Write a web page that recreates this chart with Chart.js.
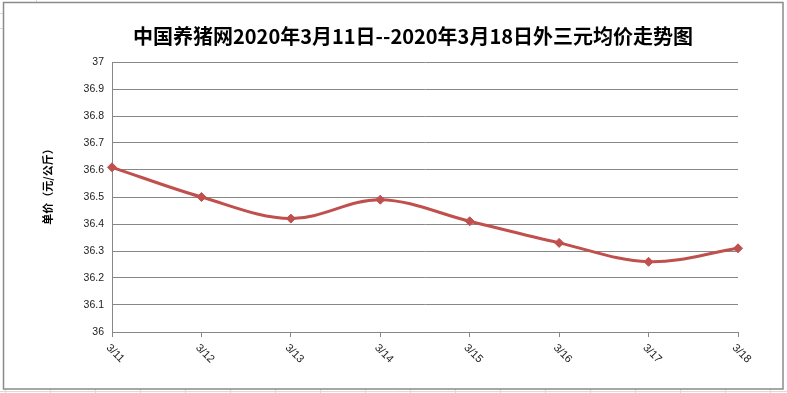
<!DOCTYPE html>
<html>
<head>
<meta charset="utf-8">
<script src="https://cdn.jsdelivr.net/npm/chart.js@4.4.2/dist/chart.umd.min.js"></script>
<style>
  html, body { margin: 0; padding: 0; background: #fff; }
  #wrap { position: relative; width: 787px; height: 393px; }
</style>
</head>
<body>
<div id="wrap"><canvas id="price-chart" width="787" height="393"></canvas></div>
<script>
// Données
const titleText = '中国养猪网2020年3月11日--2020年3月18日外三元均价走势图';
const yAxisTitle = '单价（元/公斤）';
const dates = ['3/11', '3/12', '3/13', '3/14', '3/15', '3/16', '3/17', '3/18'];
const prices = [36.61, 36.50, 36.42, 36.49, 36.41, 36.33, 36.26, 36.31];
const yMin = 36;
const yMax = 37;
const yStep = 0.1;

const gridColor = '#878787';
const lineColor = '#C0504D';

// Cadre, titre et étiquettes inclinées dessinés à la main
const decorPlugin = {
  id: 'decor',
  beforeDraw(chart) {
    const ctx = chart.ctx;
    ctx.save();
    ctx.fillStyle = '#fff';
    ctx.fillRect(0, 0, chart.width, chart.height);
    // lignes de la feuille Excel autour du graphique
    ctx.strokeStyle = '#dadada';
    ctx.lineWidth = 1;
    ctx.beginPath();
    ctx.moveTo(0, 391.5); ctx.lineTo(787, 391.5);
    for (let x = 5.5; x < 787; x += 45) { ctx.moveTo(x, 389); ctx.lineTo(x, 393); }
    ctx.moveTo(36.5, 0); ctx.lineTo(36.5, 2);
    ctx.moveTo(0, 13.5); ctx.lineTo(3, 13.5);
    ctx.moveTo(0, 28.5); ctx.lineTo(3, 28.5);
    ctx.stroke();
    ctx.strokeStyle = '#8a8a8a';
    ctx.lineWidth = 1.5;
    ctx.strokeRect(3.5, 2.5, 779.5, 386.5);
    ctx.restore();
  },
  afterDraw(chart) {
    const ctx = chart.ctx;
    const xScale = chart.scales.x;
    const bottom = chart.chartArea.bottom;
    ctx.save();
    // titre
    ctx.fillStyle = '#000';
    ctx.font = 'bold 20px "Noto Sans CJK SC"';
    ctx.textAlign = 'center';
    ctx.textBaseline = 'middle';
    ctx.fillText(titleText, 413, 36);
    // titre de l'axe Y
    ctx.save();
    ctx.translate(48, 184);
    ctx.rotate(-Math.PI / 2);
    ctx.font = 'bold 11px "Noto Sans CJK SC"';
    ctx.fillText(yAxisTitle, 0, 0);
    ctx.restore();
    // étiquettes de l'axe X
    ctx.font = '11px "Liberation Sans"';
    ctx.fillStyle = '#222';
    ctx.textAlign = 'left';
    ctx.textBaseline = 'middle';
    dates.forEach((d, i) => {
      const x = xScale.getPixelForValue(i);
      ctx.save();
      ctx.translate(x - 4, bottom + 14);
      ctx.rotate(Math.PI / 4);
      ctx.fillText(d, 0, 0);
      ctx.restore();
    });
    ctx.restore();
  }
};

new Chart(document.getElementById('price-chart'), {
  type: 'line',
  data: {
    labels: dates,
    datasets: [{
      data: prices,
      borderColor: lineColor,
      backgroundColor: lineColor,
      borderWidth: 3,
      tension: 0.35,
      pointStyle: 'rectRot',
      pointRadius: 4.5,
      pointBorderWidth: 1,
      pointBorderColor: lineColor,
      pointBackgroundColor: lineColor,
      clip: false
    }]
  },
  options: {
    responsive: false,
    animation: false,
    devicePixelRatio: 1,
    layout: { padding: { top: 62, right: 49, bottom: 0, left: 0 } },
    plugins: {
      legend: { display: false },
      title: { display: false },
      tooltip: { enabled: false }
    },
    scales: {
      x: {
        offset: false,
        grid: { drawOnChartArea: false, drawTicks: true, tickLength: 5, color: gridColor },
        border: { color: gridColor, width: 1 },
        ticks: { display: false },
        afterFit(scale) { scale.height = 61; }
      },
      y: {
        min: yMin,
        max: yMax,
        grid: { drawTicks: false, color: gridColor, lineWidth: 1 },
        border: { color: gridColor, width: 1 },
        ticks: {
          stepSize: yStep,
          padding: 8,
          color: '#222',
          font: { family: 'Liberation Sans', size: 10.5 },
          callback: v => String(Number(v.toFixed(1)))
        },
        afterFit(scale) { scale.width = 112; }
      }
    }
  },
  plugins: [decorPlugin]
});
</script>
</body>
</html>
